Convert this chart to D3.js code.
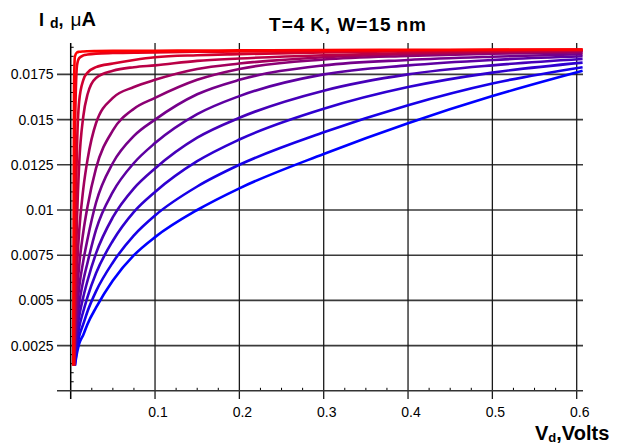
<!DOCTYPE html>
<html><head><meta charset="utf-8">
<script src="https://cdn.jsdelivr.net/npm/d3@7"></script>
<style>body{margin:0;background:#fff}svg{display:block}</style></head>
<body>
<svg id="c" width="620" height="447"></svg>
<script>
const vd = [0.003, 0.004, 0.005, 0.0075, 0.01, 0.015, 0.02, 0.03, 0.05, 0.075, 0.1, 0.15, 0.2, 0.3, 0.4, 0.5, 0.607];
const c0  = [0.0014, 0.0170, 0.0185, 0.01872, 0.01875, 0.01877, 0.01878, 0.01879, 0.0188, 0.0188, 0.01881, 0.01882, 0.01883, 0.01885, 0.01886, 0.01887, 0.01888];
const c1  = [0.0014, 0.0060, 0.0140, 0.0180, 0.0184, 0.01855, 0.0186, 0.01865, 0.01868, 0.0187, 0.01872, 0.01875, 0.01877, 0.0188, 0.01883, 0.01885, 0.01887];
const c2  = [null, 0.0014, 0.0065, 0.0135, 0.0160, 0.0172, 0.0176, 0.0179, 0.0181, 0.0183, 0.01845, 0.01856, 0.01862, 0.01872, 0.01878, 0.01882, 0.01885];
const c3  = [null, 0.0014, 0.0045, 0.0095, 0.0125, 0.0152, 0.0164, 0.0173, 0.0177, 0.0179, 0.0180, 0.01825, 0.01838, 0.01856, 0.01868, 0.01876, 0.01882];
const c4  = [null, 0.0014, 0.0036, 0.0068, 0.0088, 0.0112, 0.0128, 0.0148, 0.0162, 0.0168, 0.0172, 0.0178, 0.0181, 0.01845, 0.01862, 0.01872, 0.01878];
const c5  = [null, 0.0014, 0.0030, 0.0054, 0.0069, 0.0088, 0.0102, 0.0123, 0.0144, 0.0156, 0.0162, 0.0172, 0.0178, 0.01832, 0.01852, 0.01864, 0.01872];
const c6  = [null, 0.0014, 0.0026, 0.0045, 0.0057, 0.0072, 0.0084, 0.0104, 0.0126, 0.0141, 0.0150, 0.0164, 0.0172, 0.0180, 0.0183, 0.01848, 0.01862];
const c7  = [null, 0.0014, 0.0023, 0.0038, 0.0048, 0.0061, 0.0071, 0.0089, 0.0110, 0.0126, 0.0137, 0.0153, 0.0163, 0.0175, 0.0180, 0.0183, 0.0185];
const c8  = [null, 0.0014, 0.0021, 0.0033, 0.0041, 0.0052, 0.0061, 0.0076, 0.0096, 0.0112, 0.0123, 0.0140, 0.0151, 0.0166, 0.0175, 0.0180, 0.01835];
const c9  = [null, 0.0014, 0.0019, 0.0028, 0.0035, 0.0044, 0.0052, 0.0065, 0.0083, 0.0099, 0.0110, 0.0127, 0.0139, 0.0156, 0.0168, 0.0176, 0.01815];
const c10 = [null, null, 0.0014, 0.0024, 0.0030, 0.0037, 0.0044, 0.0055, 0.0071, 0.0086, 0.0097, 0.0113, 0.0125, 0.0143, 0.0158, 0.0170, 0.0179];
const c11 = [null, null, 0.0014, 0.0021, 0.0026, 0.0031, 0.0037, 0.0046, 0.0061, 0.0075, 0.0085, 0.0100, 0.0112, 0.0131, 0.0148, 0.0163, 0.0177];
const series = [c0, c1, c2, c3, c4, c5, c6, c7, c8, c9, c10, c11];
const xTicks = [0.1, 0.2, 0.3, 0.4, 0.5, 0.6];
const xTickLabels = ["0.1", "0.2", "0.3", "0.4", "0.5", "0.6"];
const yTicks = [0.0025, 0.005, 0.0075, 0.01, 0.0125, 0.015, 0.0175];
const yTickLabels = ["0.0025", "0.005", "0.0075", "0.01", "0.0125", "0.015", "0.0175"];

const svg = d3.select("#c");
const x = d3.scaleLinear().domain([0, 0.6]).range([70.7, 576.7]);
const y = d3.scaleLinear().domain([0, 0.0175]).range([390.8, 74.4]);
const xL = 57, xR = 583, yT = 43, yB = 399;
const color = d3.scaleLinear().domain([0, series.length - 1]).range(["#ff0000", "#0000ff"]).interpolate(d3.interpolateRgb);

// grid
svg.append("g").selectAll("line").data(yTicks).join("line")
  .attr("x1", xL).attr("x2", xR).attr("y1", d => y(d)).attr("y2", d => y(d))
  .attr("stroke", "#3a3a3a").attr("stroke-width", 1.6);
svg.append("g").selectAll("line").data(xTicks).join("line")
  .attr("x1", d => x(d)).attr("x2", d => x(d)).attr("y1", yT).attr("y2", yB)
  .attr("stroke", "#1a1a1a").attr("stroke-width", 1.3);

// minor ticks
const yMinor = d3.range(1, 39).map(i => i * 0.0005).filter(v => Math.abs(v / 0.0025 - Math.round(v / 0.0025)) > 1e-6);
svg.append("g").selectAll("line").data(yMinor).join("line")
  .attr("x1", x(0)).attr("x2", x(0) + 3).attr("y1", d => y(d)).attr("y2", d => y(d))
  .attr("stroke", "#000").attr("stroke-width", 1);
const xMinor = d3.range(1, 25).map(i => i * 0.025).filter(v => Math.abs(v / 0.1 - Math.round(v / 0.1)) > 1e-6);
svg.append("g").selectAll("line").data(xMinor).join("line")
  .attr("x1", d => x(d)).attr("x2", d => x(d)).attr("y1", y(0)).attr("y2", y(0) - 3)
  .attr("stroke", "#000").attr("stroke-width", 1);

// axes
svg.append("line").attr("x1", x(0)).attr("x2", x(0)).attr("y1", yT).attr("y2", yB).attr("stroke", "#000").attr("stroke-width", 1.5);
svg.append("line").attr("x1", xL).attr("x2", xR).attr("y1", y(0)).attr("y2", y(0)).attr("stroke", "#333").attr("stroke-width", 1.6);

// tick labels
const font = "'Liberation Sans', Arial, sans-serif";
svg.append("g").selectAll("text").data(yTicks).join("text")
  .attr("x", 53.5).attr("y", d => y(d)).attr("dy", "0.36em").attr("text-anchor", "end")
  .attr("font-family", font).attr("font-size", 14).text((d, i) => yTickLabels[i]);
svg.append("g").selectAll("text").data(xTicks).join("text")
  .attr("x", d => x(d) + 3).attr("y", 417).attr("text-anchor", "middle")
  .attr("font-family", font).attr("font-size", 14).text((d, i) => xTickLabels[i]);

// curves
const line = d3.line().defined(d => d[1] !== null).x(d => x(d[0])).y(d => y(d[1])).curve(d3.curveMonotoneX);
const g = svg.append("g");
for (let i = series.length - 1; i >= 0; i--) {
  g.append("path").attr("d", line(vd.map((v, k) => [v, series[i][k]])))
    .attr("fill", "none").attr("stroke", color(i)).attr("stroke-width", 2.6)
    .attr("stroke-linejoin", "round").attr("stroke-linecap", "butt");
}

// titles
const t = svg.append("text").attr("x", 348).attr("y", 31).attr("text-anchor", "middle")
  .attr("font-family", font).attr("font-weight", "bold").attr("font-size", 19).attr("letter-spacing", 1);
t.text("T=4\u2009K, W=15\u2009nm");

const yl = svg.append("text").attr("x", 39).attr("y", 26).attr("font-family", font).attr("font-weight", "bold").attr("font-size", 18);
yl.append("tspan").text("I");
yl.append("tspan").attr("dx", 6).attr("dy", 2).attr("font-size", 14).text("d");
yl.append("tspan").attr("dy", -2).text(",");
yl.append("tspan").attr("dx", 7).attr("font-weight", "normal").attr("font-size", 19).text("\u03bc");
yl.append("tspan").attr("font-size", 20).text("A");

const xl = svg.append("text").attr("x", 535).attr("y", 440).attr("font-family", font).attr("font-weight", "bold").attr("font-size", 20);
xl.append("tspan").text("V");
xl.append("tspan").attr("dy", 2).attr("font-size", 13).text("d");
xl.append("tspan").attr("dy", -2).text(",Volts");
</script>
</body></html>
